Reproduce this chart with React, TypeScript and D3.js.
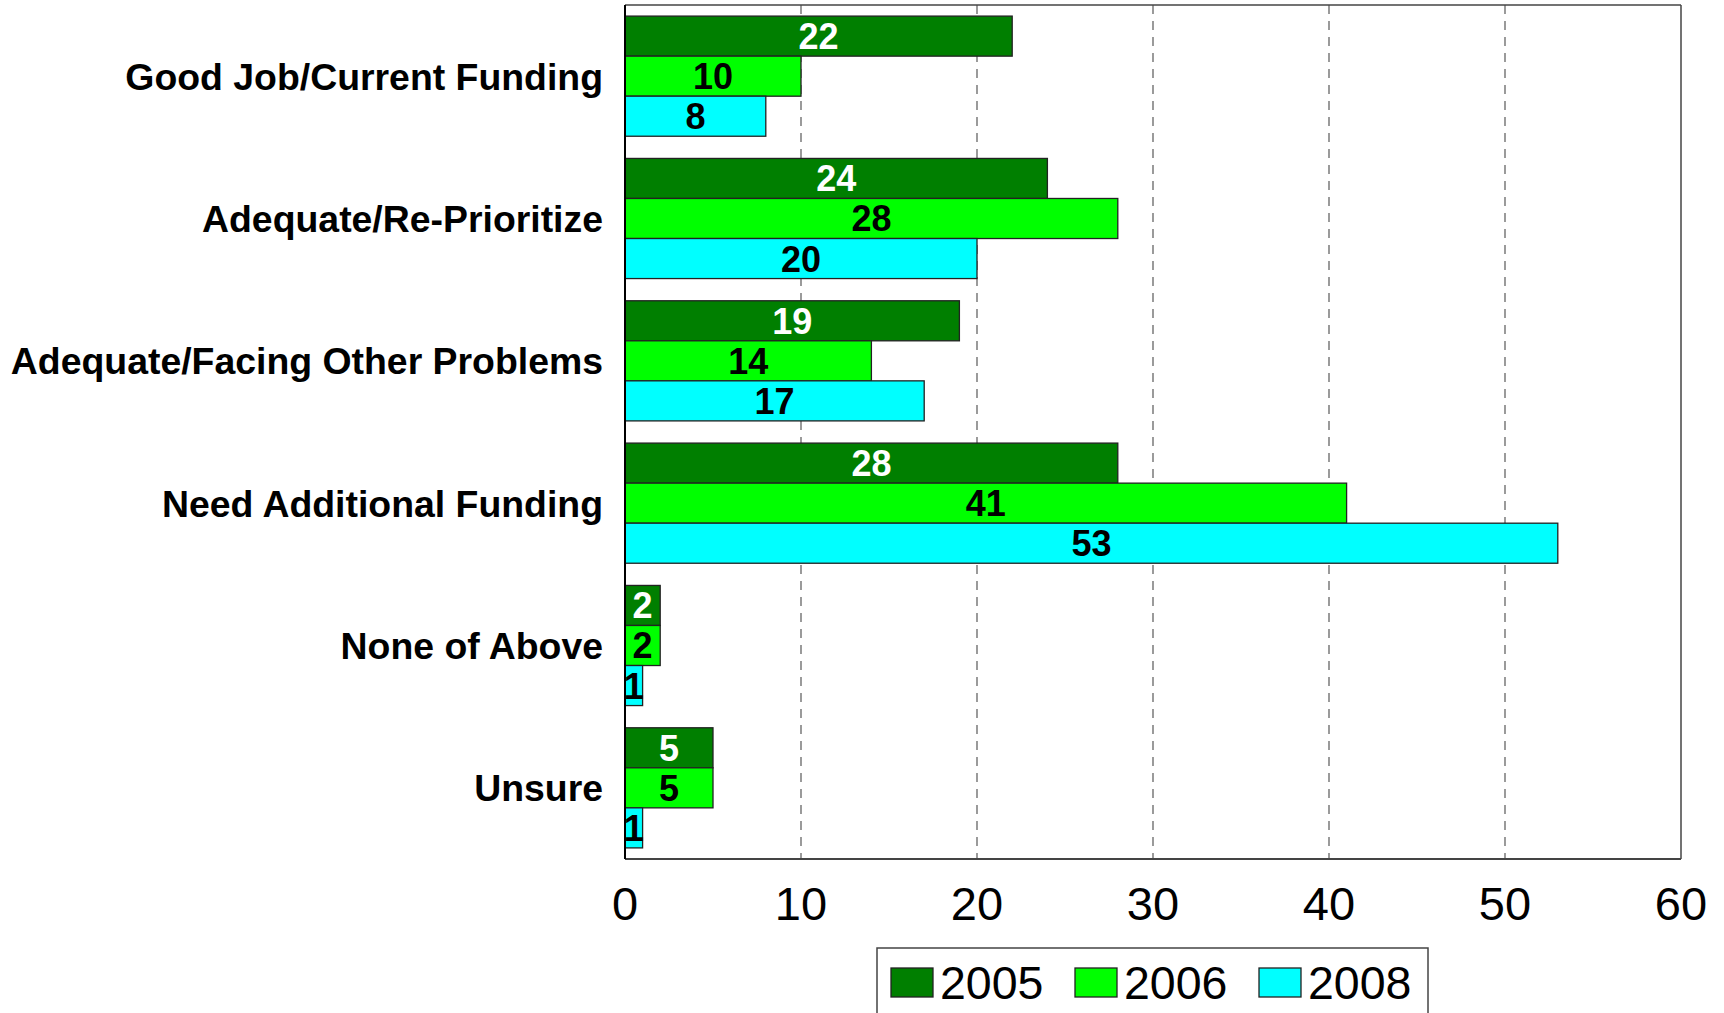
import React from "react";
import * as d3 from "d3";

const categories = [
  "Good Job/Current Funding",
  "Adequate/Re-Prioritize",
  "Adequate/Facing Other Problems",
  "Need Additional Funding",
  "None of Above",
  "Unsure",
];
const seriesNames = ["2005", "2006", "2008"];
const values2005 = [22, 24, 19, 28, 2, 5];
const values2006 = [10, 28, 14, 41, 2, 5];
const values2008 = [8, 20, 17, 53, 1, 1];
const seriesColors = ["#007F00", "#00FF00", "#00FFFF"];
const labelColors = ["#FFFFFF", "#000000", "#000000"];
const xTicks = [0, 10, 20, 30, 40, 50, 60];

const W = 1724;
const H = 1013;
const plot = { left: 625, right: 1681, top: 5, bottom: 859 };

export default function App() {
  const series = [values2005, values2006, values2008];
  const x = d3.scaleLinear().domain([0, 60]).range([plot.left, plot.right]);
  const y0 = d3
    .scaleBand<string>()
    .domain(categories)
    .range([plot.top, plot.bottom])
    .paddingInner(0.156)
    .paddingOuter(0.078);
  const y1 = d3
    .scaleBand<string>()
    .domain(seriesNames)
    .range([0, y0.bandwidth()]);

  const font = "'Liberation Sans', Arial, sans-serif";

  return (
    <svg
      width={W}
      height={H}
      style={{ position: "absolute", left: 0, top: 0, background: "#fff" }}
      fontFamily={font}
    >
      <rect x={0} y={0} width={W} height={H} fill="#fff" />
      {xTicks.slice(1, -1).map((t) => (
        <line
          key={"g" + t}
          x1={x(t)}
          x2={x(t)}
          y1={plot.top}
          y2={plot.bottom}
          stroke="#666"
          strokeWidth={1.3}
          strokeDasharray="9,7"
        />
      ))}
      <line x1={plot.left} x2={plot.right} y1={plot.top} y2={plot.top} stroke="#444" strokeWidth={1.5} />
      <line x1={plot.right} x2={plot.right} y1={plot.top} y2={plot.bottom} stroke="#444" strokeWidth={1.5} />
      <line x1={plot.left} x2={plot.right} y1={plot.bottom} y2={plot.bottom} stroke="#444" strokeWidth={2} />
      {categories.map((c, i) => (
        <g key={c}>
          {seriesNames.map((s, j) => {
            const v = series[j][i];
            const yy = (y0(c) as number) + (y1(s) as number);
            const h = y1.bandwidth();
            return (
              <g key={s}>
                <rect
                  x={x(0)}
                  y={yy}
                  width={x(v) - x(0)}
                  height={h}
                  fill={seriesColors[j]}
                  stroke="#222"
                  strokeWidth={1.3}
                />
                <text
                  x={(x(0) + x(v)) / 2}
                  y={yy + h / 2}
                  dy="0.36em"
                  textAnchor="middle"
                  fontSize={36}
                  fontWeight="bold"
                  fill={labelColors[j]}
                >
                  {v}
                </text>
              </g>
            );
          })}
          <text
            x={603}
            y={(y0(c) as number) + y0.bandwidth() / 2}
            dy="0.36em"
            textAnchor="end"
            fontSize={37.4}
            fontWeight="bold"
            fill="#000"
          >
            {c}
          </text>
        </g>
      ))}
      <line x1={plot.left} x2={plot.left} y1={plot.top} y2={plot.bottom} stroke="#000" strokeWidth={2} />
      {xTicks.map((t) => (
        <text
          key={"t" + t}
          x={x(t)}
          y={920}
          textAnchor="middle"
          fontSize={47}
          fill="#000"
        >
          {t}
        </text>
      ))}
      <rect x={877} y={948} width={551} height={80} fill="#fff" stroke="#444" strokeWidth={1.5} />
      {seriesNames.map((s, j) => {
        const lx = [891, 1075, 1259][j];
        return (
          <g key={"l" + s}>
            <rect x={lx} y={968} width={42} height={29} fill={seriesColors[j]} stroke="#222" strokeWidth={1.3} />
            <text x={lx + 49} y={999} fontSize={46.5} fill="#000">
              {s}
            </text>
          </g>
        );
      })}
    </svg>
  );
}
